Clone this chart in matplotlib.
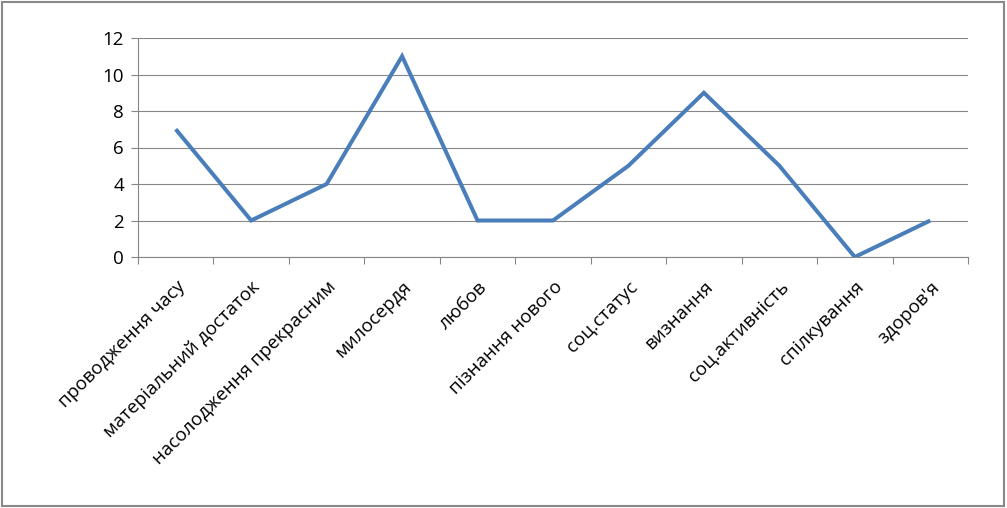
import matplotlib
matplotlib.use("Agg")
import matplotlib.pyplot as plt
from matplotlib.patches import Rectangle

categories = [
    "проводження часу",
    "матеріальний достаток",
    "насолодження прекрасним",
    "милосердя",
    "любов",
    "пізнання нового",
    "соц.статус",
    "визнання",
    "соц.активність",
    "спілкування",
    "здоров'я",
]
values = [7, 2, 4, 11, 2, 2, 5, 9, 5, 0, 2]
y_ticks = [0, 2, 4, 6, 8, 10, 12]

plt.rcParams["font.family"] = ["Open Sans", "DejaVu Sans"]

fig = plt.figure(figsize=(10.07, 5.08), dpi=100)
ax = fig.add_axes((138 / 1007, 1 - 257 / 508, 830 / 1007, 219 / 508))

grid_color = "#868686"
x_pos = list(range(len(categories)))
ax.plot(x_pos, values, color="#4A7EBB", linewidth=2.9, solid_joinstyle="miter",
        solid_capstyle="butt", zorder=3)

ax.set_xlim(-0.5, len(categories) - 0.5)
ax.set_ylim(0, 12)
ax.set_yticks(y_ticks)
ax.set_yticklabels([str(v) for v in y_ticks], fontsize=13.5)
ax.yaxis.grid(True, color=grid_color, linewidth=0.8)
ax.set_axisbelow(True)

# category ticks between categories, labels centred on categories
ax.set_xticks([i - 0.5 for i in range(len(categories) + 1)])
ax.set_xticklabels([])
ax.set_xticks(x_pos, minor=True)
ax.set_xticklabels(categories, minor=True, rotation=45, ha="right",
                   rotation_mode="anchor", fontsize=13.5)
ax.tick_params(axis="x", which="minor", length=0, pad=15)
ax.tick_params(axis="x", which="major", length=5, color=grid_color, width=0.8)
ax.tick_params(axis="y", length=5, color=grid_color, width=0.8, pad=5)

for side in ("top", "right"):
    ax.spines[side].set_visible(False)
for side in ("left", "bottom"):
    ax.spines[side].set_color(grid_color)
    ax.spines[side].set_linewidth(0.8)

fig.patches.append(Rectangle((0.002, 0.004), 0.995, 0.992, transform=fig.transFigure,
                             fill=False, edgecolor="#898989", linewidth=1.5))

fig.savefig("out.png", dpi=100)
